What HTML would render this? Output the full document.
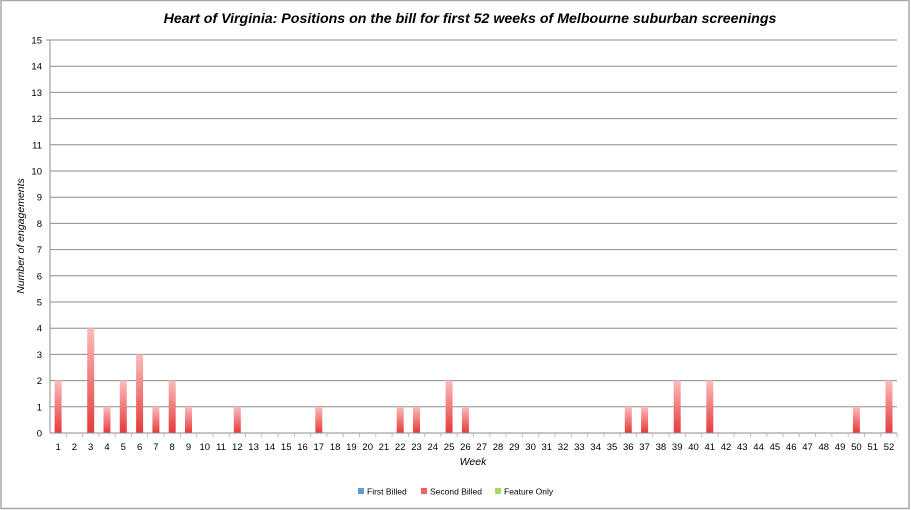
<!DOCTYPE html>
<html><head><meta charset="utf-8"><style>
html,body{margin:0;padding:0;background:#fff}
svg{display:block;font-family:"Liberation Sans",sans-serif}
</style></head><body>
<svg width="911" height="510" viewBox="0 0 911 510" xmlns="http://www.w3.org/2000/svg">
<defs><linearGradient id="g" x1="0" y1="0" x2="0" y2="1"><stop offset="0" stop-color="#fbbcbc"/><stop offset="1" stop-color="#e63a3a"/></linearGradient></defs>
<rect x="1" y="0.5" width="908" height="508" fill="#fff" stroke="#a8a8a8" stroke-width="1.5"/>
<text x="470" y="23" text-anchor="middle" font-size="14.2" font-weight="bold" font-style="italic" fill="#000">Heart of Virginia: Positions on the bill for first 52 weeks of Melbourne suburban screenings</text>
<g stroke="#8c8c8c" stroke-width="1">
<line x1="50" y1="406.8" x2="897" y2="406.8"/><line x1="50" y1="380.6" x2="897" y2="380.6"/><line x1="50" y1="354.4" x2="897" y2="354.4"/><line x1="50" y1="328.2" x2="897" y2="328.2"/><line x1="50" y1="302" x2="897" y2="302"/><line x1="50" y1="275.8" x2="897" y2="275.8"/><line x1="50" y1="249.6" x2="897" y2="249.6"/><line x1="50" y1="223.4" x2="897" y2="223.4"/><line x1="50" y1="197.2" x2="897" y2="197.2"/><line x1="50" y1="171" x2="897" y2="171"/><line x1="50" y1="144.8" x2="897" y2="144.8"/><line x1="50" y1="118.6" x2="897" y2="118.6"/><line x1="50" y1="92.4" x2="897" y2="92.4"/><line x1="50" y1="66.2" x2="897" y2="66.2"/><line x1="50" y1="40" x2="897" y2="40"/>
<line x1="50" y1="40" x2="50" y2="433"/>
<line x1="46" y1="40" x2="50" y2="40"/>
</g>
<g fill="url(#g)">
<rect x="54.6" y="380.6" width="7" height="52.4"/>
<rect x="87.2" y="328.2" width="7" height="104.8"/>
<rect x="103.5" y="406.8" width="7" height="26.2"/>
<rect x="119.8" y="380.6" width="7" height="52.4"/>
<rect x="136.1" y="354.4" width="7" height="78.6"/>
<rect x="152.4" y="406.8" width="7" height="26.2"/>
<rect x="168.7" y="380.6" width="7" height="52.4"/>
<rect x="185" y="406.8" width="7" height="26.2"/>
<rect x="233.8" y="406.8" width="7" height="26.2"/>
<rect x="315.3" y="406.8" width="7" height="26.2"/>
<rect x="396.7" y="406.8" width="7" height="26.2"/>
<rect x="413" y="406.8" width="7" height="26.2"/>
<rect x="445.6" y="380.6" width="7" height="52.4"/>
<rect x="461.9" y="406.8" width="7" height="26.2"/>
<rect x="624.8" y="406.8" width="7" height="26.2"/>
<rect x="641.1" y="406.8" width="7" height="26.2"/>
<rect x="673.7" y="380.6" width="7" height="52.4"/>
<rect x="706.3" y="380.6" width="7" height="52.4"/>
<rect x="852.9" y="406.8" width="7" height="26.2"/>
<rect x="885.5" y="380.6" width="7" height="52.4"/>
</g>
<line x1="50" y1="433" x2="897" y2="433" stroke="#8c8c8c"/>
<g stroke="#bbb" stroke-width="1">
<path d="M66.3 433v4M82.6 433v4M98.9 433v4M115.2 433v4M131.5 433v4M147.7 433v4M164 433v4M180.3 433v4M196.6 433v4M212.9 433v4M229.2 433v4M245.5 433v4M261.8 433v4M278.1 433v4M294.4 433v4M310.6 433v4M326.9 433v4M343.2 433v4M359.5 433v4M375.8 433v4M392.1 433v4M408.4 433v4M424.7 433v4M441 433v4M457.3 433v4M473.5 433v4M489.8 433v4M506.1 433v4M522.4 433v4M538.7 433v4M555 433v4M571.3 433v4M587.6 433v4M603.9 433v4M620.2 433v4M636.4 433v4M652.7 433v4M669 433v4M685.3 433v4M701.6 433v4M717.9 433v4M734.2 433v4M750.5 433v4M766.8 433v4M783.1 433v4M799.3 433v4M815.6 433v4M831.9 433v4M848.2 433v4M864.5 433v4M880.8 433v4M897 433v4"/>
</g>
<g font-size="9.5" fill="#000" text-anchor="end">
<text x="42" y="436.5">0</text><text x="42" y="410.3">1</text><text x="42" y="384.1">2</text><text x="42" y="357.9">3</text><text x="42" y="331.7">4</text><text x="42" y="305.5">5</text><text x="42" y="279.3">6</text><text x="42" y="253.1">7</text><text x="42" y="226.9">8</text><text x="42" y="200.7">9</text><text x="42" y="174.5">10</text><text x="42" y="148.3">11</text><text x="42" y="122.1">12</text><text x="42" y="95.9">13</text><text x="42" y="69.7">14</text><text x="42" y="43.5">15</text>
</g>
<g font-size="9.5" fill="#000" text-anchor="middle">
<text x="58.1" y="450">1</text><text x="74.4" y="450">2</text><text x="90.7" y="450">3</text><text x="107" y="450">4</text><text x="123.3" y="450">5</text><text x="139.6" y="450">6</text><text x="155.9" y="450">7</text><text x="172.2" y="450">8</text><text x="188.5" y="450">9</text><text x="204.8" y="450">10</text><text x="221" y="450">11</text><text x="237.3" y="450">12</text><text x="253.6" y="450">13</text><text x="269.9" y="450">14</text><text x="286.2" y="450">15</text><text x="302.5" y="450">16</text><text x="318.8" y="450">17</text><text x="335.1" y="450">18</text><text x="351.4" y="450">19</text><text x="367.7" y="450">20</text><text x="383.9" y="450">21</text><text x="400.2" y="450">22</text><text x="416.5" y="450">23</text><text x="432.8" y="450">24</text><text x="449.1" y="450">25</text><text x="465.4" y="450">26</text><text x="481.7" y="450">27</text><text x="498" y="450">28</text><text x="514.3" y="450">29</text><text x="530.6" y="450">30</text><text x="546.8" y="450">31</text><text x="563.1" y="450">32</text><text x="579.4" y="450">33</text><text x="595.7" y="450">34</text><text x="612" y="450">35</text><text x="628.3" y="450">36</text><text x="644.6" y="450">37</text><text x="660.9" y="450">38</text><text x="677.2" y="450">39</text><text x="693.5" y="450">40</text><text x="709.8" y="450">41</text><text x="726" y="450">42</text><text x="742.3" y="450">43</text><text x="758.6" y="450">44</text><text x="774.9" y="450">45</text><text x="791.2" y="450">46</text><text x="807.5" y="450">47</text><text x="823.8" y="450">48</text><text x="840.1" y="450">49</text><text x="856.4" y="450">50</text><text x="872.7" y="450">51</text><text x="889" y="450">52</text>
</g>
<text x="473" y="465" font-size="10.5" font-style="italic" text-anchor="middle">Week</text>
<text transform="translate(24,236) rotate(-90)" font-size="10.5" font-style="italic" text-anchor="middle">Number of engagements</text>
<g font-size="8.5" fill="#000">
<rect x="358" y="488" width="6" height="6" fill="#5b9bd5"/><text x="367" y="494.5">First Billed</text>
<rect x="421" y="488" width="6" height="6" fill="#f06060"/><text x="430" y="494.5">Second Billed</text>
<rect x="495" y="488" width="6" height="6" fill="#a6d96a"/><text x="504" y="494.5">Feature Only</text>
</g>
</svg>
</body></html>
